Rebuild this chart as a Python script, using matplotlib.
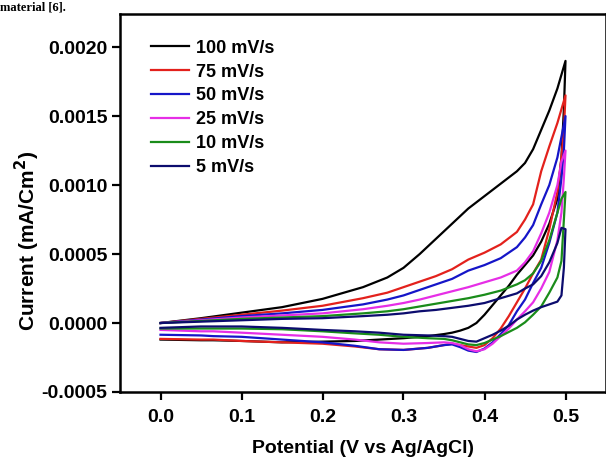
import matplotlib
matplotlib.use("Agg")
import matplotlib.pyplot as plt

plt.rcParams['font.family'] = ['Liberation Sans', 'DejaVu Sans']
plt.rcParams['font.weight'] = 'bold'

# potential grids (V vs Ag/AgCl): anodic sweep 0 -> 0.5, cathodic sweep 0.5 -> 0
fwd_v = [0.0, 0.05, 0.1, 0.15, 0.2, 0.25, 0.28, 0.3, 0.32, 0.34, 0.36, 0.38,
         0.40, 0.42, 0.44, 0.45, 0.46, 0.47, 0.48, 0.49, 0.495, 0.5]
rev_v = [0.5, 0.498, 0.495, 0.49, 0.48, 0.47, 0.46, 0.45, 0.44, 0.43, 0.42,
         0.41, 0.40, 0.39, 0.38, 0.37, 0.36, 0.35, 0.33, 0.30, 0.27, 0.24,
         0.20, 0.15, 0.10, 0.065, 0.05, 0.0]

# current in units of 1e-4 mA/cm2
fwd_100 = [0.0, 0.35, 0.75, 1.15, 1.75, 2.6, 3.3, 4.0, 5.0, 6.1, 7.2, 8.3,
           9.2, 10.1, 11.0, 11.6, 12.6, 14.0, 15.4, 17.0, 18.0, 19.0]
rev_100 = [19.0, 15.5, 12.0, 9.0, 7.2, 5.9, 4.9, 4.2, 3.5, 2.7, 2.0, 1.3, 0.6,
           0.0, -0.35, -0.55, -0.7, -0.8, -0.95, -1.1, -1.2, -1.3, -1.35, -1.4,
           -1.3, -1.25, -1.25, -1.2]

fwd_75 = [0.0, 0.3, 0.6, 0.9, 1.25, 1.8, 2.2, 2.6, 3.0, 3.4, 3.9, 4.6, 5.1,
          5.7, 6.6, 7.5, 8.6, 11.0, 12.8, 14.5, 15.5, 16.5]
rev_75 = [16.5, 14.0, 12.0, 9.5, 6.8, 4.6, 3.6, 2.5, 1.5, 0.5, -0.4, -1.1,
          -1.6, -1.8, -1.7, -1.6, -1.5, -1.6, -1.8, -1.95, -1.9, -1.7, -1.5,
          -1.4, -1.3, -1.2, -1.2, -1.15]

fwd_50 = [0.0, 0.25, 0.5, 0.7, 0.95, 1.35, 1.7, 2.0, 2.4, 2.8, 3.2, 3.8, 4.2,
          4.7, 5.5, 6.2, 7.1, 8.6, 10.0, 12.0, 13.5, 15.0]
rev_50 = [15.0, 12.5, 10.5, 8.0, 5.8, 4.0, 2.9, 1.7, 0.85, -0.15, -0.8, -1.4,
          -1.85, -2.1, -2.0, -1.75, -1.55, -1.6, -1.8, -1.95, -1.9, -1.65,
          -1.4, -1.2, -1.0, -0.95, -0.9, -0.85]

fwd_25 = [0.0, 0.2, 0.4, 0.55, 0.7, 1.0, 1.25, 1.45, 1.7, 2.0, 2.3, 2.6,
          2.95, 3.3, 3.8, 4.4, 5.2, 6.5, 8.0, 10.0, 11.7, 12.5]
rev_25 = [12.5, 10.5, 8.0, 6.0, 3.7, 2.5, 1.5, 0.85, 0.25, -0.4, -0.95, -1.5,
          -1.9, -2.05, -1.9, -1.6, -1.45, -1.4, -1.45, -1.5, -1.4, -1.2, -1.0,
          -0.85, -0.7, -0.6, -0.6, -0.5]

fwd_10 = [0.0, 0.15, 0.3, 0.4, 0.5, 0.7, 0.85, 1.0, 1.2, 1.4, 1.6, 1.8, 2.05,
          2.35, 2.8, 3.1, 3.6, 4.5, 6.0, 8.0, 9.0, 9.5]
rev_10 = [9.5, 7.5, 4.5, 3.3, 2.2, 1.2, 0.6, 0.05, -0.35, -0.65, -0.95, -1.2,
          -1.45, -1.6, -1.55, -1.4, -1.25, -1.15, -1.1, -1.0, -0.85, -0.75,
          -0.6, -0.45, -0.4, -0.4, -0.4, -0.4]

fwd_5 = [0.0, 0.1, 0.2, 0.3, 0.35, 0.5, 0.6, 0.7, 0.85, 0.95, 1.1, 1.25,
         1.45, 1.8, 2.15, 2.5, 2.8, 3.4, 4.4, 5.8, 6.9, 6.8]
rev_5 = [6.8, 4.0, 2.0, 1.55, 1.35, 1.15, 0.9, 0.6, 0.25, -0.2, -0.55, -0.85,
         -1.1, -1.35, -1.3, -1.15, -1.0, -0.95, -0.9, -0.85, -0.7, -0.6, -0.5,
         -0.35, -0.25, -0.25, -0.25, -0.35]

labels = ['100 mV/s', '75 mV/s', '50 mV/s', '25 mV/s', '10 mV/s', '5 mV/s']
colors = ['#000000', '#e3211c', '#1515c8', '#e62ee6', '#1a8c1a', '#0c0c6e']
forward = [fwd_100, fwd_75, fwd_50, fwd_25, fwd_10, fwd_5]
reverse = [rev_100, rev_75, rev_50, rev_25, rev_10, rev_5]
scale = 1e-4

fig = plt.figure(figsize=(6.06, 4.62), dpi=100)
ax = fig.add_axes([120 / 606, 70 / 462, 486 / 606, 378 / 462])

for lab, col, f, r in zip(labels, colors, forward, reverse):
    v = fwd_v + rev_v[1:]
    i = [c * scale for c in f + r[1:]]
    ax.plot(v, i, color=col, lw=1.6, label=lab)

ax.set_xlim(-0.05, 0.55)
ax.set_ylim(-0.0005, 0.00224)
ax.set_xticks([0.0, 0.1, 0.2, 0.3, 0.4, 0.5])
ax.set_yticks([-0.0005, 0.0, 0.0005, 0.0010, 0.0015, 0.0020])
ax.set_xticklabels(['0.0', '0.1', '0.2', '0.3', '0.4', '0.5'])
ax.set_yticklabels(['-0.0005', '0.0000', '0.0005', '0.0010', '0.0015', '0.0020'])
ax.tick_params(direction='out', length=6, width=1.6, labelsize=14)
ax.tick_params(axis='x', pad=6)
ax.tick_params(axis='y', pad=3)
for s in ax.spines.values():
    s.set_linewidth(1.8)

ax.set_xlabel('Potential (V vs Ag/AgCl)', fontsize=14, fontweight='bold',
              labelpad=10)
ax.set_ylabel('Current (mA/Cm$^\\mathbf{2}$)', fontsize=15, fontweight='bold')
ax.yaxis.set_label_coords(-0.16, 0.40)

ax.legend(loc='upper left', bbox_to_anchor=(0.064, 0.932), frameon=False,
          fontsize=13, handlelength=2.1, handletextpad=0.4, labelspacing=0.38,
          borderpad=0, borderaxespad=0)

fig.text(0.0, 0.978, 'material [6].', family='Liberation Serif',
         fontsize=9, fontweight='bold', va='baseline')

fig.savefig('out.png', dpi=100)
